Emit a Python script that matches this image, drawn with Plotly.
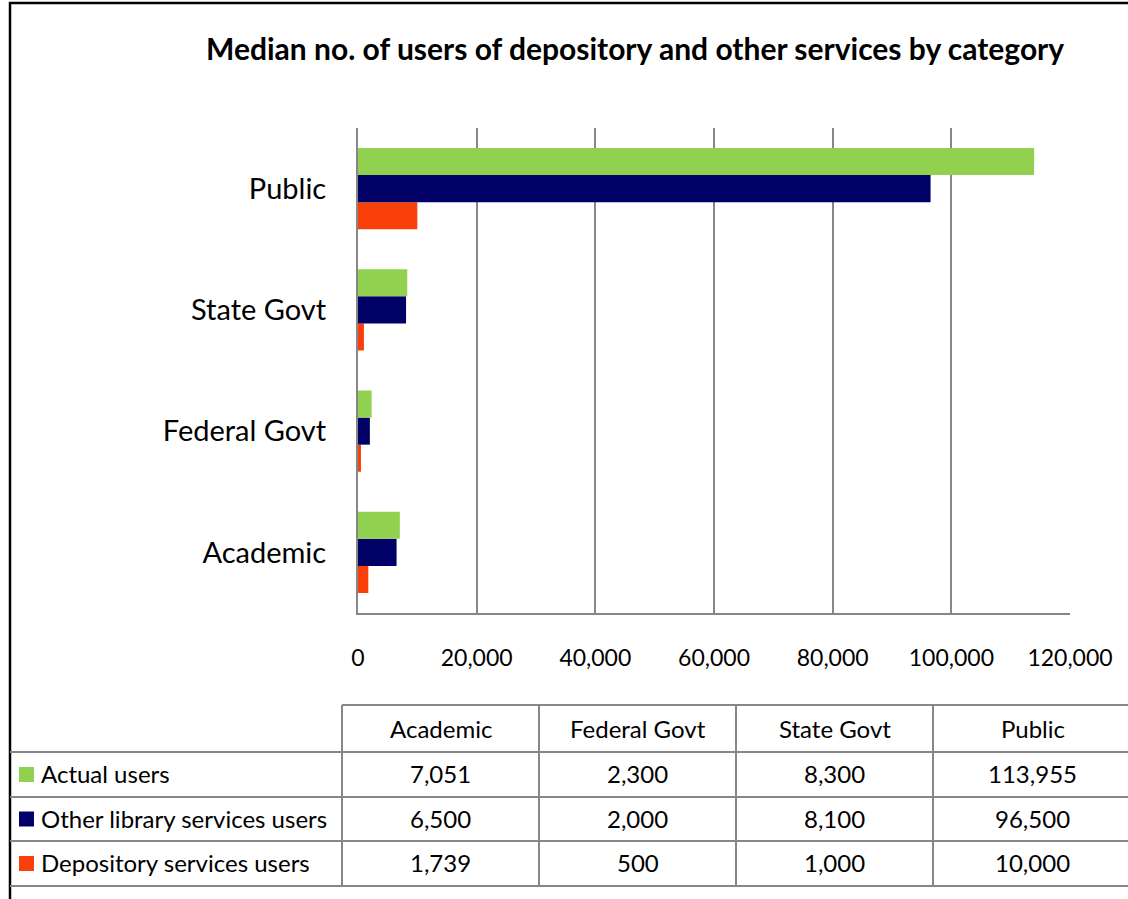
import plotly.graph_objects as go

# Data
categories = ["Academic", "Federal Govt", "State Govt", "Public"]
series_names = ["Actual users", "Other library services users", "Depository services users"]
actual_users = [7051, 2300, 8300, 113955]
other_users = [6500, 2000, 8100, 96500]
depository_users = [1739, 500, 1000, 10000]
x_ticks = [0, 20000, 40000, 60000, 80000, 100000, 120000]

colors = {"Actual users": "#92D050",
          "Other library services users": "#000066",
          "Depository services users": "#FA400A"}
series_values = {"Actual users": actual_users,
                 "Other library services users": other_users,
                 "Depository services users": depository_users}

W, H = 1128, 899
L, R, T, B = 358, 1070, 128, 613
FONT = "Lato"
GRID = "#878787"


def px(x):
    return (x - L) / (R - L)


def py(y):
    return (B - y) / (B - T)


fig = go.Figure()
# horizontal groups place the first trace lowest, so add in reverse order
for name in reversed(series_names):
    fig.add_trace(go.Bar(
        y=categories, x=series_values[name], orientation="h",
        name=name, marker=dict(color=colors[name], line=dict(width=0)),
        showlegend=False, hoverinfo="x+name",
    ))

shapes = []
annotations = []

# Title
annotations.append(dict(
    x=px(635), y=py(48), xref="paper", yref="paper",
    text="<b>Median no. of users of depository and other services by category</b>",
    showarrow=False, xanchor="center", yanchor="middle",
    font=dict(family=FONT, size=30, color="black"),
))

# Outer chart border
shapes.append(dict(type="rect", xref="paper", yref="paper",
                   x0=px(10), x1=px(1140), y0=py(3), y1=py(910),
                   line=dict(color="black", width=2.5)))

# Data table
line_style = dict(color=GRID, width=2)
row_lines = [752, 797, 841, 886]
col_lines = [342, 539, 736, 933]
col_right = 1132
table_top = 705
shapes.append(dict(type="line", xref="paper", yref="paper",
                   x0=px(col_lines[0]), x1=px(col_right), y0=py(table_top), y1=py(table_top),
                   line=line_style))
for yl in row_lines:
    shapes.append(dict(type="line", xref="paper", yref="paper",
                       x0=px(10), x1=px(col_right), y0=py(yl), y1=py(yl), line=line_style))
for xl in col_lines:
    shapes.append(dict(type="line", xref="paper", yref="paper",
                       x0=px(xl), x1=px(xl), y0=py(table_top), y1=py(row_lines[-1]),
                       line=line_style))

col_edges = col_lines + [col_right]
row_edges = [table_top] + row_lines
label_font = dict(family=FONT, size=24, color="black")
value_font = dict(family=FONT, size=24, color="black")
for j, cat in enumerate(categories):
    cx = (col_edges[j] + col_edges[j + 1]) / 2
    annotations.append(dict(x=px(cx), y=py((row_edges[0] + row_edges[1]) / 2),
                            xref="paper", yref="paper", text=cat, showarrow=False,
                            xanchor="center", yanchor="middle", font=label_font))
for i, name in enumerate(series_names):
    cy = (row_edges[i + 1] + row_edges[i + 2]) / 2
    shapes.append(dict(type="rect", xref="paper", yref="paper",
                       x0=px(19), x1=px(34), y0=py(cy - 7.5), y1=py(cy + 7.5),
                       fillcolor=colors[name], line=dict(width=0)))
    annotations.append(dict(x=px(39), y=py(cy - 1), xref="paper", yref="paper",
                            text=name, showarrow=False, xanchor="left", yanchor="middle",
                            font=label_font))
    for j, v in enumerate(series_values[name]):
        cx = (col_edges[j] + col_edges[j + 1]) / 2
        annotations.append(dict(x=px(cx), y=py(cy - 1), xref="paper", yref="paper",
                                text=f"{v:,}", showarrow=False,
                                xanchor="center", yanchor="middle", font=value_font))

fig.update_layout(
    width=W, height=H,
    margin=dict(l=L, r=W - R, t=T, b=H - B, pad=0),
    paper_bgcolor="white", plot_bgcolor="white",
    barmode="group", bargap=0.33, bargroupgap=0,
    shapes=shapes, annotations=annotations,
    font=dict(family=FONT, color="black"),
)
fig.update_xaxes(
    range=[0, 120000], tickvals=x_ticks, tickformat=",",
    showgrid=True, gridcolor=GRID, gridwidth=2,
    zeroline=False, showline=True, linecolor=GRID, linewidth=2,
    ticks="", ticklabelstandoff=23,
    tickfont=dict(family=FONT, size=23, color="black"),
)
fig.update_yaxes(
    categoryorder="array", categoryarray=categories,
    showgrid=False, zeroline=False, showline=True, linecolor=GRID, linewidth=2,
    ticks="", ticklabelstandoff=24,
    tickfont=dict(family=FONT, size=29, color="black"),
)

fig.write_html("out.html")
